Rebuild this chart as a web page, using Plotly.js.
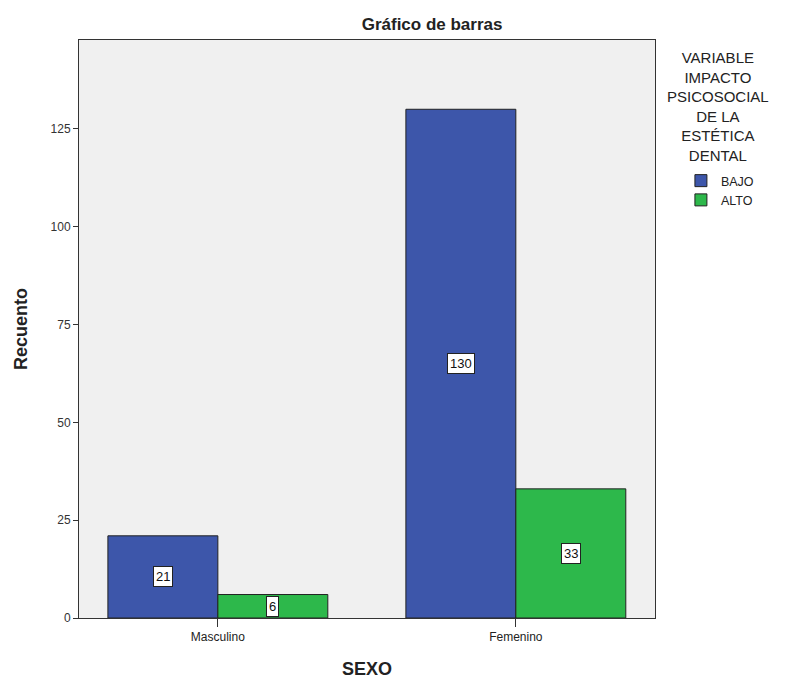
<!DOCTYPE html>
<html><head><meta charset="utf-8">
<script src="https://cdn.plot.ly/plotly-3.0.1.min.js"></script>
<style>body{margin:0;background:#fff}#chart{width:789px;height:679px}</style>
</head><body><div id="chart"></div>
<script>
const categories = ["Masculino", "Femenino"];
const seriesNames = ["BAJO", "ALTO"];
const bajo = [21, 130];
const alto = [6, 33];
const colors = ["#3d56aa", "#2db84b"];
const yTicks = [0, 25, 50, 75, 100, 125];

const bargap = 0.262;
const barW = (1 - bargap) / 2;
const series = [bajo, alto];

const traces = series.map((vals, i) => ({
  type: "bar",
  name: seriesNames[i],
  x: categories,
  y: vals,
  marker: {color: colors[i], line: {color: "#222", width: 1}},
  hoverinfo: "x+y+name"
}));

const annotations = [];
series.forEach((vals, i) => {
  vals.forEach((v, j) => {
    annotations.push({
      x: j + (i - 0.5) * barW, y: v / 2, xref: "x", yref: "y",
      text: String(v), showarrow: false,
      font: {family: "Liberation Sans, Arial", size: 13, color: "#111"},
      bgcolor: "#ffffff", bordercolor: "#222", borderwidth: 1, borderpad: 2
    });
  });
});
annotations.push({
  xref: "paper", yref: "paper", x: 1.109, y: 0.988, xanchor: "center", yanchor: "top",
  text: "VARIABLE<br>IMPACTO<br>PSICOSOCIAL<br>DE LA<br>ESTÉTICA<br>DENTAL",
  showarrow: false, align: "center",
  font: {family: "Liberation Sans, Arial", size: 15, color: "#222"}
});

const layout = {
  width: 789, height: 679,
  margin: {l: 79, r: 134, t: 40, b: 61},
  paper_bgcolor: "#ffffff", plot_bgcolor: "#f0f0f0",
  title: {text: "<b>Gráfico de barras</b>", x: 0.613, xref: "paper", xanchor: "center", y: 0.964, yanchor: "middle",
          font: {family: "Liberation Sans, Arial", size: 17, color: "#222"}},
  barmode: "group", bargap: bargap, bargroupgap: 0,
  xaxis: {
    range: [-0.466, 1.467], showgrid: false, zeroline: false,
    showline: true, mirror: true, linecolor: "#333", linewidth: 1,
    ticks: "outside", ticklen: 8, tickcolor: "#333",
    tickfont: {family: "Liberation Sans, Arial", size: 12, color: "#222"},
    title: {text: "<b>SEXO</b>", standoff: 18, font: {family: "Liberation Sans, Arial", size: 18, color: "#222"}}
  },
  yaxis: {
    range: [0, 147.7], tickvals: yTicks, showgrid: false, zeroline: false,
    showline: true, mirror: true, linecolor: "#333", linewidth: 1,
    ticks: "outside", ticklen: 5, tickcolor: "#333",
    tickfont: {family: "Liberation Sans, Arial", size: 12, color: "#333"},
    title: {text: "<b>Recuento</b>", standoff: 18, font: {family: "Liberation Sans, Arial", size: 18, color: "#222"}}
  },
  legend: {
    x: 1.045, y: 0.782, xanchor: "left", yanchor: "top", xref: "paper", yref: "paper",
    font: {family: "Liberation Sans, Arial", size: 12.5, color: "#222"},
    itemwidth: 30, tracegroupgap: 0, bgcolor: "rgba(0,0,0,0)"
  },
  annotations: annotations,
  showlegend: true
};

Plotly.newPlot("chart", traces, layout, {displayModeBar: false, staticPlot: true});
</script>
</body></html>
